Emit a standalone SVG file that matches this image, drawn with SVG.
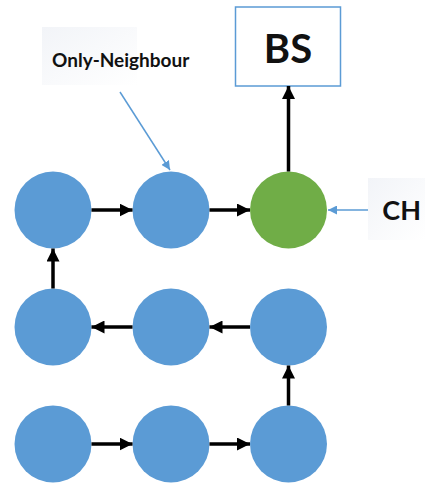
<svg xmlns="http://www.w3.org/2000/svg" width="425" height="484" viewBox="0 0 425 484">
  <style>
    .node { fill: #5b9bd5; }
    .ch { fill: #70ad47; }
    .flow { stroke: #000; stroke-width: 3.5; fill: none; marker-end: url(#blackHead); }
    .pointer { stroke: #5b9bd5; stroke-width: 1.5; fill: none; marker-end: url(#blueHead); }
    .label { font-family: Lato, "Open Sans", "Liberation Sans", sans-serif; font-weight: bold; fill: #111; }
  </style>
  <defs>
    <marker id="blackHead" viewBox="0 0 10 10" refX="10" refY="5" markerUnits="userSpaceOnUse" markerWidth="13" markerHeight="13" orient="auto">
      <path d="M0,0 L10,5 L0,10 z" fill="#000"/>
    </marker>
    <marker id="blueHead" viewBox="0 0 10 10" refX="10" refY="5" markerUnits="userSpaceOnUse" markerWidth="9" markerHeight="9" orient="auto">
      <path d="M0,0 L10,5 L0,10 z" fill="#5b9bd5"/>
    </marker>
    <linearGradient id="fade" x1="0" y1="0" x2="1" y2="1">
      <stop offset="0" stop-color="#f2f4f8"/>
      <stop offset="1" stop-color="#ffffff"/>
    </linearGradient>
  </defs>
  <rect width="425" height="484" fill="#fff"/>

  <g id="label-only-neighbour">
    <rect x="42" y="27" width="95" height="58" fill="url(#fade)"/>
    <text class="label" x="52" y="67" font-size="19">Only-Neighbour</text>
  </g>
  <g id="label-ch">
    <rect x="368" y="178" width="57" height="62" fill="url(#fade)"/>
    <text class="label" x="421" y="220" font-size="27" text-anchor="end">CH</text>
  </g>

  <g id="bs">
    <rect x="235.5" y="7" width="105" height="79" fill="#fff" stroke="#5b9bd5" stroke-width="1.5"/>
    <text class="label" x="288" y="63" font-size="40" text-anchor="middle">BS</text>
  </g>

  <g id="n1"><circle class="node" cx="53" cy="210" r="38.5"/></g>
  <g id="n2"><circle class="node" cx="171" cy="210" r="38.5"/></g>
  <g id="ch"><circle class="ch" cx="288.5" cy="210" r="38.5"/></g>
  <g id="n4"><circle class="node" cx="53" cy="327" r="38.5"/></g>
  <g id="n5"><circle class="node" cx="171" cy="327" r="38.5"/></g>
  <g id="n6"><circle class="node" cx="288.5" cy="327" r="38.5"/></g>
  <g id="n7"><circle class="node" cx="53" cy="444" r="38.5"/></g>
  <g id="n8"><circle class="node" cx="171" cy="444" r="38.5"/></g>
  <g id="n9"><circle class="node" cx="288.5" cy="444" r="38.5"/></g>

  <g id="connectors">
    <line class="flow" x1="91.5" y1="210" x2="132.5" y2="210"/>
    <line class="flow" x1="209.5" y1="210" x2="250" y2="210"/>
    <line class="flow" x1="288.5" y1="171.5" x2="288.5" y2="86"/>
    <line class="flow" x1="53" y1="288.5" x2="53" y2="248.5"/>
    <line class="flow" x1="132.5" y1="327" x2="91.5" y2="327"/>
    <line class="flow" x1="250" y1="327" x2="209.5" y2="327"/>
    <line class="flow" x1="288.5" y1="405.5" x2="288.5" y2="365.5"/>
    <line class="flow" x1="91.5" y1="444" x2="132.5" y2="444"/>
    <line class="flow" x1="209.5" y1="444" x2="250" y2="444"/>
    <line class="pointer" x1="120" y1="92" x2="170" y2="170"/>
    <line class="pointer" x1="368" y1="210" x2="328" y2="210"/>
  </g>
</svg>
